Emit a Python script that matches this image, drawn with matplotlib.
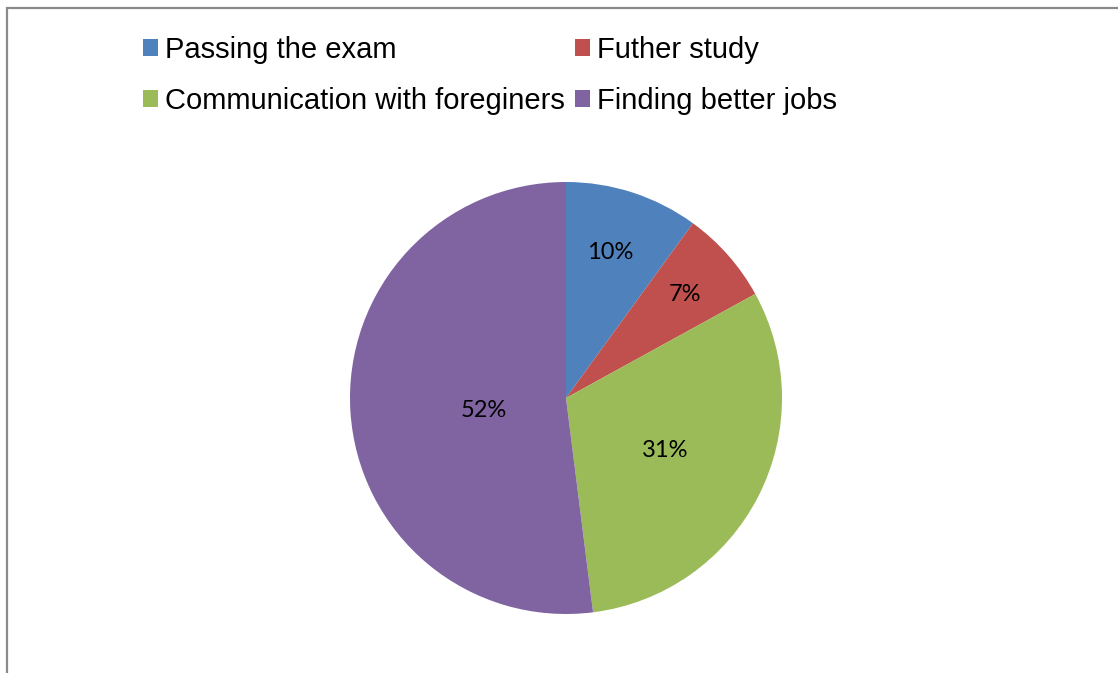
import matplotlib
matplotlib.use("Agg")
import matplotlib.pyplot as plt
from matplotlib.patches import Rectangle, Patch

categories = ["Passing the exam", "Futher study",
              "Communication with foreginers", "Finding better jobs"]
shares = [10, 7, 31, 52]
colors = ["#4F81BD", "#C0504D", "#9BBB59", "#8064A2"]
# percentage label anchors, in units of the pie radius
label_xy = [(0.204, 0.674), (0.551, 0.477), (0.458, -0.245), (-0.382, -0.056)]

W, H = 1118, 673
fig = plt.figure(figsize=(W / 100, H / 100), dpi=100)
fig.patch.set_facecolor("white")

# chart frame
fig.add_artist(Rectangle((7 / W, -0.05), 1.2, 1 - 8 / H + 0.05,
                         transform=fig.transFigure, fill=False,
                         edgecolor="#8a8a8a", linewidth=1.6))

cx, cy, r = 566, 398, 216
ax = fig.add_axes([(cx - r) / W, (H - cy - r) / H, 2 * r / W, 2 * r / H])
wedges, _ = ax.pie(shares, colors=colors, startangle=90, counterclock=False,
                   radius=1.0, wedgeprops=dict(linewidth=0))
ax.set_xlim(-1, 1)
ax.set_ylim(-1, 1)

for (lx, ly), v in zip(label_xy, shares):
    ax.text(lx, ly, f"{v}%", ha="center", va="center", fontsize=17,
            family=["Lato", "DejaVu Sans"], color="black")

# legend filled row by row: matplotlib fills columns first, so reorder
order = [0, 2, 1, 3]
handles = [Patch(facecolor=colors[i], edgecolor="none") for i in order]
labels = [categories[i] for i in order]
fig.legend(handles, labels, loc="upper left",
           bbox_to_anchor=(143 / W, 1 - 36 / H), ncol=2, frameon=False,
           prop=dict(family="Liberation Sans", size=21),
           handlelength=0.51, handleheight=0.51, handletextpad=0.24,
           columnspacing=0.34, labelspacing=0.79, borderaxespad=0,
           borderpad=0)

fig.savefig("out.png", dpi=100)
